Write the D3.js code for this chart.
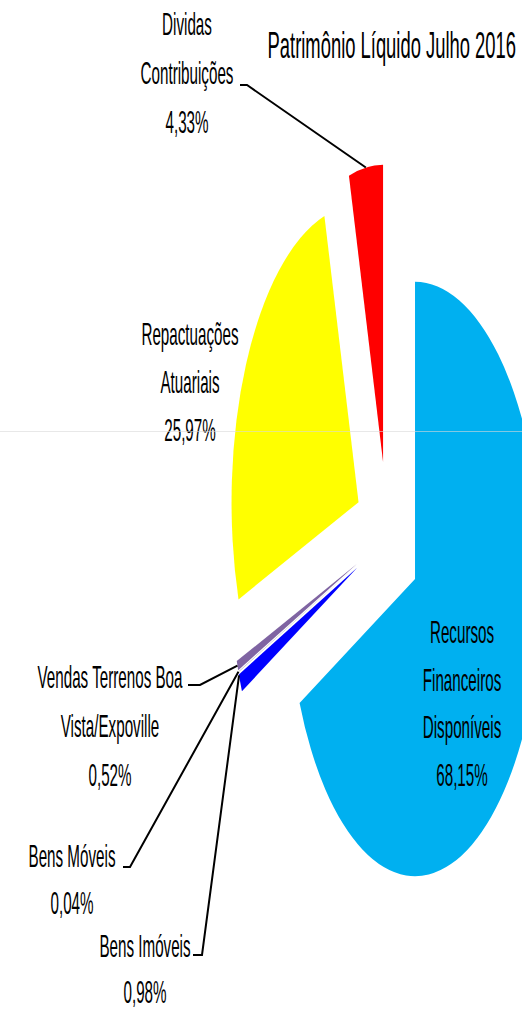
<!DOCTYPE html>
<html>
<head>
<meta charset="utf-8">
<script src="https://cdn.jsdelivr.net/npm/d3@7"></script>
<style>
  body { margin: 0; background: #fff; }
  svg { display: block; }
  text { font-family: "Liberation Sans", sans-serif; fill: #000; }
</style>
</head>
<body>
<svg id="chart" width="522" height="1011"></svg>
<script>
// data
const categories = ["Recursos Financeiros Disponíveis", "Bens Imóveis", "Bens Móveis",
  "Vendas Terrenos Boa Vista/Expoville", "Repactuações Atuariais", "Dividas Contribuições"];
const values = [68.15, 0.98, 0.04, 0.52, 25.97, 4.33];
const valueLabels = ["68,15%", "0,98%", "0,04%", "0,52%", "25,97%", "4,33%"];
const labelLines = [
  ["Recursos", "Financeiros", "Disponíveis"],
  ["Bens Imóveis"],
  ["Bens Móveis"],
  ["Vendas Terrenos Boa", "Vista/Expoville"],
  ["Repactuações", "Atuariais"],
  ["Dividas", "Contribuições"]
];
const colors = ["#00B0F0", "#0000FF", "#BFBFBF", "#7F64A2", "#FFFF00", "#FF0000"];
const title = "Patrimônio Líquido Julho 2016";

// layout (screen px)
const cx = 387.5, cy = 537.7;
const R = 127;          // radius before vertical stretch
const explode = 32.7;   // explosion distance
const k = 2.34;         // vertical stretch of the whole chart
const tx = 0.8, ty = 1.63; // condensed, stretched text
const fontSize = 19;

const labelPos = [
  { x: 462, y: 643, dy: 47.5 },
  { x: 145, y: 957, dy: 46, tick: [193, 202, 955], at: 0.85 },
  { x: 72, y: 867, dy: 47, tick: [123, 130, 867], at: 0.5 },
  { x: 110, y: 688, dy: 49, tick: [188, 200, 685], at: 0.5 },
  { x: 190, y: 345, dy: 48 },
  { x: 187, y: 35, dy: 49, tick: [240, 247, 85], at: 0.5 }
];

const svg = d3.select("#chart");

const pie = d3.pie().sort(null).value(d => d)(values);
const arc = d3.arc().innerRadius(0).outerRadius(R);

const pieG = svg.append("g")
  .attr("transform", `translate(${cx},${cy}) scale(1,${k})`);

pieG.selectAll("path")
  .data(pie)
  .join("path")
    .attr("transform", d => {
      const m = (d.startAngle + d.endAngle) / 2;
      return `translate(${explode * Math.sin(m)},${-explode * Math.cos(m)})`;
    })
    .attr("d", arc)
    .attr("fill", (d, i) => colors[i]);

// screen point on the outer arc of a slice
function outerPoint(d, f) {
  const a = d.startAngle + (d.endAngle - d.startAngle) * f;
  return [cx + (R + explode) * Math.sin(a), cy - k * (R + explode) * Math.cos(a)];
}

// leader lines
pie.forEach((d, i) => {
  const p = labelPos[i];
  if (!p.tick) return;
  const end = outerPoint(d, p.at);
  svg.append("path")
    .attr("d", `M${p.tick[0]},${p.tick[2]}H${p.tick[1]}L${end[0]},${end[1]}`)
    .attr("fill", "none")
    .attr("stroke", "#000")
    .attr("stroke-width", 2);
});

// labels
function drawLines(lines, x, y, dy, size, anchor) {
  lines.forEach((t, j) => {
    svg.append("g")
      .attr("transform", `translate(${x},${y + j * dy}) scale(${tx},${ty})`)
      .append("text")
        .attr("text-anchor", anchor)
        .attr("font-size", size)
        .text(t);
  });
}

labelLines.forEach((lines, i) => {
  const p = labelPos[i];
  drawLines(lines.concat([valueLabels[i]]), p.x, p.y, p.dy, fontSize, "middle");
});

drawLines([title], 516, 58, 0, 23, "end");

// faint scan line across the picture
svg.append("line")
  .attr("x1", 0).attr("x2", 522)
  .attr("y1", 431.5).attr("y2", 431.5)
  .attr("stroke", "#d8d8d8")
  .attr("stroke-opacity", 0.6);
</script>
</body>
</html>
